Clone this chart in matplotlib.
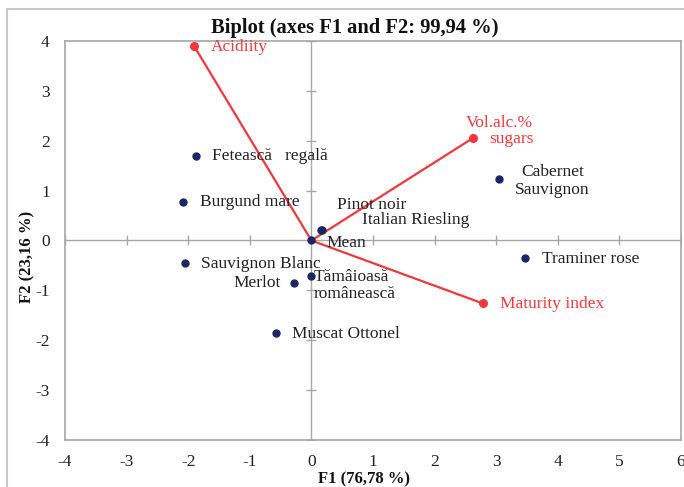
import matplotlib
matplotlib.use("Agg")
import matplotlib.pyplot as plt
from matplotlib.patches import Rectangle

plt.rcParams['font.family'] = ['Liberation Serif', 'DejaVu Serif']
plt.rcParams['axes.unicode_minus'] = False

# Observations (wines)
wine_names = ["Fetească   regală", "Burgund mare", "Pinot noir", "Italian Riesling",
              "Cabernet\nSauvignon", "Mean", "Traminer rose", "Sauvignon Blanc",
              "Tămâioasă\nromânească", "Merlot", "Muscat Ottonel"]
wine_f1 = [-1.87, -2.08, 0.16, 0.17, 3.05, 0.0, 3.47, -2.05, 0.0, -0.28, -0.57]
wine_f2 = [1.70, 0.78, 0.22, 0.22, 1.24, 0.0, -0.36, -0.46, -0.72, -0.86, -1.86]

# Variables (vectors)
var_names = ["Acidiity", "Vol.alc.%\nsugars", "Maturity index"]
var_f1 = [-1.90, 2.63, 2.78]
var_f2 = [3.89, 2.06, -1.26]

x_ticks = [-4, -3, -2, -1, 0, 1, 2, 3, 4, 5, 6]
y_ticks = [-4, -3, -2, -1, 0, 1, 2, 3, 4]

# label placement (offset pixels, alignment)
wine_offsets = [(16, 0, 'left'), (17, 0, 'left'), (16, 25, 'left'), (40, 10, 'left'),
                (53, -2, 'center'), (15, -3, 'left'), (17, -1, 'left'), (16, -1, 'left'),
                (2, -9, 'left'), (-13, 0, 'right'), (16, -1, 'left')]
var_offsets = [(16, -1, 'left'), (60, 7, 'right'), (17, -1, 'left')]

navy = '#1b2663'
red = '#f0383c'
gray = '#a6a6a6'

fig = plt.figure(figsize=(6.84, 4.87), dpi=100)
ax = fig.add_axes([65/684, 1-440/487, 616/684, 399/487])

# zero axes with cross ticks
ax.axhline(0, color=gray, lw=1, zorder=1)
ax.axvline(0, color=gray, lw=1, zorder=1)
ax.plot(x_ticks, [0]*len(x_ticks), ls='none', marker='|', ms=7, mew=1, color=gray, zorder=1)
ax.plot([0]*len(y_ticks), y_ticks, ls='none', marker='_', ms=7, mew=1, color=gray, zorder=1)

for xv, yv in zip(var_f1, var_f2):
    ax.plot([0, xv], [0, yv], color=red, lw=1.6, zorder=2)
ax.plot(var_f1, var_f2, 'o', color=red, ms=5.5, zorder=3)
ax.plot(wine_f1, wine_f2, 'o', color=navy, ms=5, zorder=4)

for name, x, y, (dx, dy, ha) in zip(wine_names, wine_f1, wine_f2, wine_offsets):
    ax.annotate(name, (x, y), xytext=(dx, dy), textcoords='offset pixels',
                ha=ha, va='center', fontsize=12.5, color='#222222', zorder=5,
                linespacing=1.15)
for name, x, y, (dx, dy, ha) in zip(var_names, var_f1, var_f2, var_offsets):
    ax.annotate(name, (x, y), xytext=(dx, dy), textcoords='offset pixels',
                ha=ha, va='center', fontsize=12.5, color=red, zorder=5,
                linespacing=1.0)

ax.set_xlim(-4, 6)
ax.set_ylim(-4, 4)
ax.set_xticks(x_ticks)
ax.set_yticks(y_ticks)
ax.tick_params(length=0, labelsize=12.5, colors='#222222')
ax.tick_params(axis='y', pad=11)
ax.tick_params(axis='x', pad=10)
for s in ax.spines.values():
    s.set_color(gray)
    s.set_linewidth(1.2)

fig.text(355/684, 1-28/487, "Biplot (axes F1 and F2: 99,94 %)", ha='center', va='center',
         fontsize=14.8, fontweight='bold', color='#111111')
fig.text(364/684, 1-479/487, "F1 (76,78 %)", ha='center', va='center',
         fontsize=12, fontweight='bold', color='#111111')
fig.text(27/684, 1-257/487, "F2 (23,16 %)", ha='center', va='center', rotation=90,
         fontsize=12, fontweight='bold', color='#111111')

fig.patches.append(Rectangle((7/684, -0.1), 1.2, 1.1 - 9/487, transform=fig.transFigure,
                             fill=False, edgecolor='#c8c8c8', lw=1.5, clip_on=False))

fig.savefig("out.png", dpi=100)
